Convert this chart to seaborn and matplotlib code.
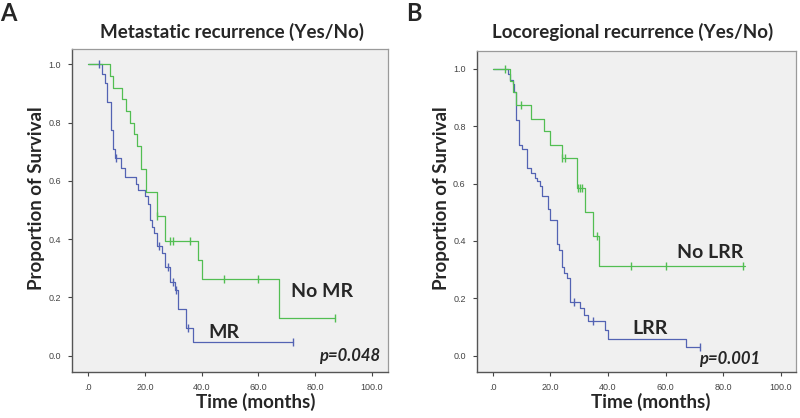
import matplotlib
matplotlib.use("Agg")
import matplotlib.pyplot as plt
import seaborn as sns
import numpy as np

# ---------------- data ----------------
# Panel A: Metastatic recurrence
mr_times = [0, 4.9, 5.9, 6.8, 7.9, 8.8, 9.3, 11.5, 13.0, 16.7, 17.6, 20.0, 21.2, 21.8, 22.4,
            23.3, 24.1, 25.9, 27.1, 28.8, 30.6, 31.8, 34.6, 36.8, 72.1]
mr_surv = [1.0, 0.968, 0.935, 0.871, 0.774, 0.71, 0.677, 0.645, 0.613, 0.59, 0.57, 0.548, 0.52, 0.466, 0.443,
           0.42, 0.376, 0.351, 0.305, 0.254, 0.225, 0.159, 0.096, 0.048, 0.048]
mr_cens_t = [3.9, 9.8, 25.0, 28.0, 30.0, 31.0, 35.3, 72.1]
mr_cens_s = [1.0, 0.677, 0.376, 0.305, 0.254, 0.225, 0.096, 0.048]

nomr_times = [0, 7.8, 8.8, 11.8, 13.2, 14.7, 16.2, 17.1, 18.8, 20.3, 24.1, 27.2, 38.8, 40.0, 67.1, 87.1]
nomr_surv = [1.0, 0.96, 0.92, 0.88, 0.84, 0.80, 0.76, 0.72, 0.64, 0.56, 0.48, 0.393, 0.328, 0.262, 0.131, 0.131]
nomr_cens_t = [24.3, 28.8, 29.8, 35.9, 47.9, 60.0, 87.1]
nomr_cens_s = [0.48, 0.393, 0.393, 0.393, 0.262, 0.262, 0.131]

# Panel B: Locoregional recurrence
lrr_times = [0, 5.1, 6.0, 7.0, 7.4, 8.1, 8.9, 10.1, 11.8, 13.2, 14.5, 15.3, 16.2, 17.0, 19.0, 19.9,
             22.1, 23.1, 24.0, 24.8, 25.7, 26.8, 30.3, 31.5, 33.0, 39.0, 39.9, 67.0, 72.0]
lrr_surv = [1.0, 0.98, 0.96, 0.948, 0.919, 0.82, 0.735, 0.72, 0.654, 0.637, 0.619, 0.61, 0.592, 0.555, 0.511, 0.474,
            0.39, 0.369, 0.308, 0.287, 0.271, 0.189, 0.166, 0.143, 0.12, 0.091, 0.059, 0.030, 0.030]
lrr_cens_t = [28.0, 34.9, 72.0]
lrr_cens_s = [0.189, 0.12, 0.030]

nolrr_times = [0, 6.0, 7.0, 8.1, 13.2, 17.9, 19.9, 23.9, 29.2, 32.0, 34.9, 37.0, 87.6]
nolrr_surv = [1.0, 0.958, 0.917, 0.875, 0.826, 0.782, 0.735, 0.689, 0.584, 0.50, 0.416, 0.314, 0.314]
nolrr_cens_t = [4.2, 9.8, 24.0, 24.9, 29.5, 30.2, 30.9, 36.1, 47.9, 60.0, 87.0]
nolrr_cens_s = [1.0, 0.875, 0.689, 0.689, 0.584, 0.584, 0.584, 0.416, 0.314, 0.314, 0.314]

x_ticks = [0, 20, 40, 60, 80, 100]
x_tick_labels = [".0", "20.0", "40.0", "60.0", "80.0", "100.0"]
y_ticks = [0.0, 0.2, 0.4, 0.6, 0.8, 1.0]
y_tick_labels = ["0.0", "0.2", "0.4", "0.6", "0.8", "1.0"]

BLUE = "#5363B3"
GREEN = "#52BE52"

sns.set_theme(style="white")
plt.rcParams["font.family"] = ["Lato", "DejaVu Sans"]

fig = plt.figure(figsize=(8, 4.18), dpi=100)
axA = fig.add_axes([0.090, 0.110, 0.395, 0.773])
axB = fig.add_axes([0.596, 0.111, 0.399, 0.766])


def km(ax, t, s, ct, cs, color):
    sns.lineplot(x=t, y=s, drawstyle="steps-post", estimator=None, sort=False,
                 color=color, linewidth=0.9, ax=ax)
    sns.scatterplot(x=ct, y=cs, marker="|", s=36, color=color, linewidth=1.0, ax=ax, zorder=3)


def style(ax, xlim, ylim):
    ax.set_facecolor("#F0F0F0")
    ax.set_xlim(*xlim)
    ax.set_ylim(*ylim)
    ax.set_xticks(x_ticks)
    ax.set_xticklabels(x_tick_labels, family="Liberation Sans", fontsize=6.5, color="#444444")
    ax.set_yticks(y_ticks)
    ax.set_yticklabels(y_tick_labels, family="Liberation Sans", fontsize=6.5, color="#444444")
    ax.tick_params(axis="both", direction="out", length=3, width=0.8, color="#444444",
                   left=True, bottom=True, pad=5)
    for side in ["left", "bottom"]:
        ax.spines[side].set_color("#555555")
        ax.spines[side].set_linewidth(1.0)
    for side in ["top", "right"]:
        ax.spines[side].set_color("#9a9a9a")
        ax.spines[side].set_linewidth(0.9)
    ax.set_xlabel("")
    ax.set_ylabel("")


km(axA, mr_times, mr_surv, mr_cens_t, mr_cens_s, BLUE)
km(axA, nomr_times, nomr_surv, nomr_cens_t, nomr_cens_s, GREEN)
style(axA, (-5.7, 105.7), (-0.056, 1.0525))

km(axB, lrr_times, lrr_surv, lrr_cens_t, lrr_cens_s, BLUE)
km(axB, nolrr_times, nolrr_surv, nolrr_cens_t, nolrr_cens_s, GREEN)
style(axB, (-5.6, 105.3), (-0.055, 1.06))

# Text
fw = "bold"
fig.text(0.0, 0.995, "A", fontsize=17, fontweight=fw, va="top", ha="left")
fig.text(0.508, 0.995, "B", fontsize=17, fontweight=fw, va="top", ha="left")
fig.text(232 / 800, 1 - 32 / 418, "Metastatic recurrence (Yes/No)", fontsize=13.5,
         fontweight=fw, ha="center", va="center")
fig.text(633 / 800, 1 - 32 / 418, "Locoregional recurrence (Yes/No)", fontsize=13.5,
         fontweight=fw, ha="center", va="center")
for xc in (37 / 800, 441 / 800):
    fig.text(xc, 1 - 198 / 418, "Proportion of Survival", fontsize=13.5, fontweight=fw,
             rotation=90, ha="center", va="center")
fig.text(256 / 800, 1 - 402 / 418, "Time (months)", fontsize=13.5, fontweight=fw,
         ha="center", va="center")
fig.text(651 / 800, 1 - 402 / 418, "Time (months)", fontsize=13.5, fontweight=fw,
         ha="center", va="center")

axA.text(71.5, 0.219, "No MR", fontsize=14, fontweight=fw, ha="left", va="center")
axA.text(42.5, 0.08, "MR", fontsize=14, fontweight=fw, ha="left", va="center")
axA.text(103, 0.0, "p=0.048", fontsize=12, fontweight=fw, style="italic", ha="right", va="center")

axB.text(64, 0.36, "No LRR", fontsize=14, fontweight=fw, ha="left", va="center")
axB.text(48.5, 0.095, "LRR", fontsize=14, fontweight=fw, ha="left", va="center")
axB.text(71.5, -0.01, "p=0.001", fontsize=12, fontweight=fw, style="italic", ha="left", va="center")

fig.savefig("out.png", dpi=100)
